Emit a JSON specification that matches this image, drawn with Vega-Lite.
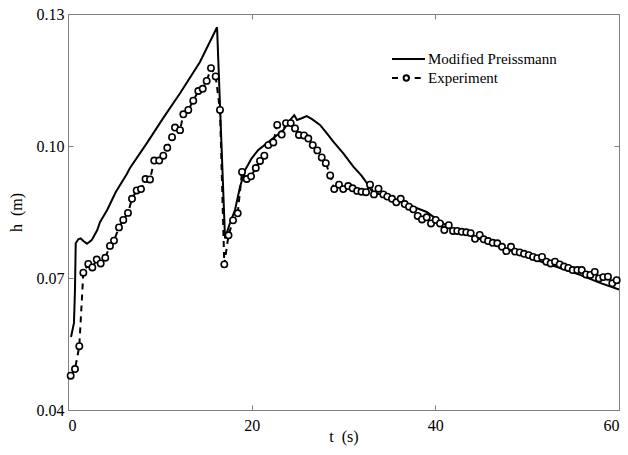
{
  "$schema": "https://vega.github.io/schema/vega-lite/v6.json",
  "width": 551,
  "height": 396,
  "autosize": "none",
  "padding": {"left": 68, "top": 14, "right": 9, "bottom": 45},
  "background": "white",
  "config": {
    "font": "Liberation Serif, Times New Roman, serif",
    "view": {"stroke": "#808080", "strokeWidth": 1},
    "axis": {
      "grid": false,
      "domainColor": "#808080",
      "tickColor": "#808080",
      "tickSize": -5,
      "labelFont": "Liberation Serif, Times New Roman, serif",
      "labelFontSize": 16,
      "labelColor": "black",
      "titleFont": "Liberation Serif, Times New Roman, serif",
      "titleFontSize": 16,
      "titleFontWeight": "normal",
      "titleColor": "black"
    },
    "legend": {
      "labelFont": "Liberation Serif, Times New Roman, serif",
      "labelFontSize": 15,
      "labelColor": "black"
    }
  },
  "datasets": {
    "model": [
      {"series": "Modified Preissmann", "t": 0.33, "h": 0.0566},
      {"series": "Modified Preissmann", "t": 0.65, "h": 0.0598},
      {"series": "Modified Preissmann", "t": 0.76, "h": 0.0673},
      {"series": "Modified Preissmann", "t": 0.84, "h": 0.0779},
      {"series": "Modified Preissmann", "t": 1.12, "h": 0.0788},
      {"series": "Modified Preissmann", "t": 1.38, "h": 0.0790},
      {"series": "Modified Preissmann", "t": 1.74, "h": 0.0783},
      {"series": "Modified Preissmann", "t": 2.07, "h": 0.0778},
      {"series": "Modified Preissmann", "t": 2.58, "h": 0.0786},
      {"series": "Modified Preissmann", "t": 3.19, "h": 0.0809},
      {"series": "Modified Preissmann", "t": 3.48, "h": 0.0827},
      {"series": "Modified Preissmann", "t": 4.28, "h": 0.0855},
      {"series": "Modified Preissmann", "t": 5.19, "h": 0.0895},
      {"series": "Modified Preissmann", "t": 6.39, "h": 0.0936},
      {"series": "Modified Preissmann", "t": 6.75, "h": 0.0950},
      {"series": "Modified Preissmann", "t": 8.57, "h": 0.1006},
      {"series": "Modified Preissmann", "t": 10.38, "h": 0.1064},
      {"series": "Modified Preissmann", "t": 12.20, "h": 0.1120},
      {"series": "Modified Preissmann", "t": 14.37, "h": 0.1191},
      {"series": "Modified Preissmann", "t": 16.23, "h": 0.1270},
      {"series": "Modified Preissmann", "t": 17.10, "h": 0.0790},
      {"series": "Modified Preissmann", "t": 17.64, "h": 0.0825},
      {"series": "Modified Preissmann", "t": 18.19, "h": 0.0855},
      {"series": "Modified Preissmann", "t": 18.73, "h": 0.0907},
      {"series": "Modified Preissmann", "t": 19.27, "h": 0.0945},
      {"series": "Modified Preissmann", "t": 20.00, "h": 0.0972},
      {"series": "Modified Preissmann", "t": 20.72, "h": 0.0991},
      {"series": "Modified Preissmann", "t": 21.64, "h": 0.1006},
      {"series": "Modified Preissmann", "t": 22.54, "h": 0.1021},
      {"series": "Modified Preissmann", "t": 23.45, "h": 0.1036},
      {"series": "Modified Preissmann", "t": 24.18, "h": 0.1059},
      {"series": "Modified Preissmann", "t": 24.64, "h": 0.1070},
      {"series": "Modified Preissmann", "t": 24.94, "h": 0.1059},
      {"series": "Modified Preissmann", "t": 25.45, "h": 0.1063},
      {"series": "Modified Preissmann", "t": 25.99, "h": 0.1068},
      {"series": "Modified Preissmann", "t": 26.57, "h": 0.1061},
      {"series": "Modified Preissmann", "t": 27.44, "h": 0.1048},
      {"series": "Modified Preissmann", "t": 28.17, "h": 0.1029},
      {"series": "Modified Preissmann", "t": 28.89, "h": 0.1010},
      {"series": "Modified Preissmann", "t": 29.98, "h": 0.0983},
      {"series": "Modified Preissmann", "t": 31.07, "h": 0.0953},
      {"series": "Modified Preissmann", "t": 31.98, "h": 0.0932},
      {"series": "Modified Preissmann", "t": 32.70, "h": 0.0911},
      {"series": "Modified Preissmann", "t": 33.21, "h": 0.0893},
      {"series": "Modified Preissmann", "t": 34.34, "h": 0.0889},
      {"series": "Modified Preissmann", "t": 36.15, "h": 0.0873},
      {"series": "Modified Preissmann", "t": 37.60, "h": 0.0862},
      {"series": "Modified Preissmann", "t": 39.06, "h": 0.0850},
      {"series": "Modified Preissmann", "t": 40.51, "h": 0.0828},
      {"series": "Modified Preissmann", "t": 41.96, "h": 0.0810},
      {"series": "Modified Preissmann", "t": 44.14, "h": 0.0794},
      {"series": "Modified Preissmann", "t": 47.04, "h": 0.0771},
      {"series": "Modified Preissmann", "t": 49.95, "h": 0.0748},
      {"series": "Modified Preissmann", "t": 52.85, "h": 0.0728},
      {"series": "Modified Preissmann", "t": 55.75, "h": 0.0707},
      {"series": "Modified Preissmann", "t": 57.93, "h": 0.0689},
      {"series": "Modified Preissmann", "t": 60.00, "h": 0.0674}
    ],
    "exp": [
      {"series": "Experiment", "t": 0.29, "h": 0.0478},
      {"series": "Experiment", "t": 0.76, "h": 0.0493},
      {"series": "Experiment", "t": 1.23, "h": 0.0545},
      {"series": "Experiment", "t": 1.67, "h": 0.0712},
      {"series": "Experiment", "t": 2.21, "h": 0.0732},
      {"series": "Experiment", "t": 2.65, "h": 0.0724},
      {"series": "Experiment", "t": 3.13, "h": 0.0742},
      {"series": "Experiment", "t": 3.56, "h": 0.0733},
      {"series": "Experiment", "t": 4.06, "h": 0.0746},
      {"series": "Experiment", "t": 4.57, "h": 0.0773},
      {"series": "Experiment", "t": 5.01, "h": 0.0785},
      {"series": "Experiment", "t": 5.55, "h": 0.0815},
      {"series": "Experiment", "t": 6.02, "h": 0.0832},
      {"series": "Experiment", "t": 6.53, "h": 0.0848},
      {"series": "Experiment", "t": 6.97, "h": 0.0880},
      {"series": "Experiment", "t": 7.48, "h": 0.0899},
      {"series": "Experiment", "t": 7.95, "h": 0.0902},
      {"series": "Experiment", "t": 8.44, "h": 0.0925},
      {"series": "Experiment", "t": 8.93, "h": 0.0924},
      {"series": "Experiment", "t": 9.39, "h": 0.0967},
      {"series": "Experiment", "t": 9.93, "h": 0.0967},
      {"series": "Experiment", "t": 10.38, "h": 0.0978},
      {"series": "Experiment", "t": 10.81, "h": 0.0996},
      {"series": "Experiment", "t": 11.33, "h": 0.1020},
      {"series": "Experiment", "t": 11.65, "h": 0.1042},
      {"series": "Experiment", "t": 12.20, "h": 0.1036},
      {"series": "Experiment", "t": 12.56, "h": 0.1072},
      {"series": "Experiment", "t": 13.10, "h": 0.1082},
      {"series": "Experiment", "t": 13.64, "h": 0.1103},
      {"series": "Experiment", "t": 14.19, "h": 0.1125},
      {"series": "Experiment", "t": 14.67, "h": 0.1130},
      {"series": "Experiment", "t": 15.10, "h": 0.1148},
      {"series": "Experiment", "t": 15.57, "h": 0.1177},
      {"series": "Experiment", "t": 16.08, "h": 0.1158},
      {"series": "Experiment", "t": 16.55, "h": 0.1082},
      {"series": "Experiment", "t": 17.02, "h": 0.0731},
      {"series": "Experiment", "t": 17.48, "h": 0.0797},
      {"series": "Experiment", "t": 17.97, "h": 0.0831},
      {"series": "Experiment", "t": 18.48, "h": 0.0847},
      {"series": "Experiment", "t": 18.95, "h": 0.0941},
      {"series": "Experiment", "t": 19.46, "h": 0.0925},
      {"series": "Experiment", "t": 19.93, "h": 0.0931},
      {"series": "Experiment", "t": 20.45, "h": 0.0950},
      {"series": "Experiment", "t": 20.91, "h": 0.0966},
      {"series": "Experiment", "t": 21.38, "h": 0.0978},
      {"series": "Experiment", "t": 21.81, "h": 0.1002},
      {"series": "Experiment", "t": 22.36, "h": 0.1008},
      {"series": "Experiment", "t": 22.78, "h": 0.1048},
      {"series": "Experiment", "t": 23.27, "h": 0.1026},
      {"series": "Experiment", "t": 23.74, "h": 0.1052},
      {"series": "Experiment", "t": 24.25, "h": 0.1052},
      {"series": "Experiment", "t": 24.72, "h": 0.1040},
      {"series": "Experiment", "t": 25.15, "h": 0.1025},
      {"series": "Experiment", "t": 25.70, "h": 0.1024},
      {"series": "Experiment", "t": 26.17, "h": 0.1017},
      {"series": "Experiment", "t": 26.65, "h": 0.1002},
      {"series": "Experiment", "t": 27.15, "h": 0.0990},
      {"series": "Experiment", "t": 27.63, "h": 0.0974},
      {"series": "Experiment", "t": 28.07, "h": 0.0961},
      {"series": "Experiment", "t": 28.55, "h": 0.0933},
      {"series": "Experiment", "t": 28.99, "h": 0.0902},
      {"series": "Experiment", "t": 29.51, "h": 0.0912},
      {"series": "Experiment", "t": 29.97, "h": 0.0902},
      {"series": "Experiment", "t": 30.51, "h": 0.0909},
      {"series": "Experiment", "t": 30.99, "h": 0.0904},
      {"series": "Experiment", "t": 31.49, "h": 0.0898},
      {"series": "Experiment", "t": 31.96, "h": 0.0896},
      {"series": "Experiment", "t": 32.45, "h": 0.0895},
      {"series": "Experiment", "t": 32.89, "h": 0.0912},
      {"series": "Experiment", "t": 33.32, "h": 0.0890},
      {"series": "Experiment", "t": 33.81, "h": 0.0903},
      {"series": "Experiment", "t": 34.34, "h": 0.0890},
      {"series": "Experiment", "t": 34.77, "h": 0.0885},
      {"series": "Experiment", "t": 35.28, "h": 0.0880},
      {"series": "Experiment", "t": 35.75, "h": 0.0872},
      {"series": "Experiment", "t": 36.23, "h": 0.0880},
      {"series": "Experiment", "t": 36.67, "h": 0.0868},
      {"series": "Experiment", "t": 37.13, "h": 0.0862},
      {"series": "Experiment", "t": 37.60, "h": 0.0856},
      {"series": "Experiment", "t": 38.08, "h": 0.0841},
      {"series": "Experiment", "t": 38.55, "h": 0.0833},
      {"series": "Experiment", "t": 39.06, "h": 0.0838},
      {"series": "Experiment", "t": 39.53, "h": 0.0824},
      {"series": "Experiment", "t": 40.04, "h": 0.0832},
      {"series": "Experiment", "t": 40.51, "h": 0.0824},
      {"series": "Experiment", "t": 40.98, "h": 0.0809},
      {"series": "Experiment", "t": 41.46, "h": 0.0820},
      {"series": "Experiment", "t": 41.93, "h": 0.0807},
      {"series": "Experiment", "t": 42.39, "h": 0.0807},
      {"series": "Experiment", "t": 42.87, "h": 0.0805},
      {"series": "Experiment", "t": 43.37, "h": 0.0804},
      {"series": "Experiment", "t": 43.85, "h": 0.0802},
      {"series": "Experiment", "t": 44.32, "h": 0.0789},
      {"series": "Experiment", "t": 44.83, "h": 0.0798},
      {"series": "Experiment", "t": 45.27, "h": 0.0788},
      {"series": "Experiment", "t": 45.74, "h": 0.0784},
      {"series": "Experiment", "t": 46.25, "h": 0.0780},
      {"series": "Experiment", "t": 46.75, "h": 0.0779},
      {"series": "Experiment", "t": 47.26, "h": 0.0771},
      {"series": "Experiment", "t": 47.73, "h": 0.0761},
      {"series": "Experiment", "t": 48.24, "h": 0.0771},
      {"series": "Experiment", "t": 48.68, "h": 0.0760},
      {"series": "Experiment", "t": 49.19, "h": 0.0758},
      {"series": "Experiment", "t": 49.66, "h": 0.0755},
      {"series": "Experiment", "t": 50.17, "h": 0.0752},
      {"series": "Experiment", "t": 50.64, "h": 0.0748},
      {"series": "Experiment", "t": 51.10, "h": 0.0745},
      {"series": "Experiment", "t": 51.62, "h": 0.0748},
      {"series": "Experiment", "t": 52.09, "h": 0.0737},
      {"series": "Experiment", "t": 52.56, "h": 0.0733},
      {"series": "Experiment", "t": 53.03, "h": 0.0737},
      {"series": "Experiment", "t": 53.54, "h": 0.0731},
      {"series": "Experiment", "t": 54.01, "h": 0.0726},
      {"series": "Experiment", "t": 54.48, "h": 0.0723},
      {"series": "Experiment", "t": 54.96, "h": 0.0718},
      {"series": "Experiment", "t": 55.46, "h": 0.0718},
      {"series": "Experiment", "t": 55.94, "h": 0.0718},
      {"series": "Experiment", "t": 56.41, "h": 0.0708},
      {"series": "Experiment", "t": 56.88, "h": 0.0707},
      {"series": "Experiment", "t": 57.36, "h": 0.0714},
      {"series": "Experiment", "t": 57.82, "h": 0.0699},
      {"series": "Experiment", "t": 58.29, "h": 0.0702},
      {"series": "Experiment", "t": 58.80, "h": 0.0703},
      {"series": "Experiment", "t": 59.27, "h": 0.0688},
      {"series": "Experiment", "t": 59.75, "h": 0.0695}
    ]
  },
  "resolve": {"axis": {"x": "independent", "y": "independent"}},
  "layer": [
    {
      "data": {"name": "model"},
      "mark": {"type": "line", "strokeWidth": 2, "interpolate": "linear"},
      "encoding": {
        "x": {"field": "t", "type": "quantitative", "scale": {"domain": [0, 60], "nice": false, "zero": false},
              "axis": {"orient": "bottom", "values": [0, 20, 40, 60], "title": "t\u00a0\u00a0(s)", "labelPadding": 12, "titlePadding": -5}},
        "y": {"field": "h", "type": "quantitative", "scale": {"domain": [0.04, 0.13], "nice": false, "zero": false},
              "axis": {"orient": "left", "values": [0.04, 0.07, 0.1, 0.13], "format": ".2f", "title": "h\u00a0\u00a0(m)", "labelPadding": 9, "titlePadding": 12}},
        "color": {"field": "series", "type": "nominal",
                  "scale": {"domain": ["Modified Preissmann", "Experiment"], "range": ["black", "black"]},
                  "legend": {"orient": "none", "legendX": 323, "legendY": 34, "title": null, "padding": 0,
                             "symbolSize": 400, "symbolStrokeWidth": 2, "labelOffset": 15, "rowPadding": 0,
                             "labelFont": "Liberation Serif, Times New Roman, serif", "labelFontSize": 15,
                             "encode": {"symbols": {"update": {
                               "shape": {"signal": "datum.value === 'Experiment' ? 'M-1,0H-0.4M0.16,0A0.27,0.27 0 1,0 0.7,0A0.27,0.27 0 1,0 0.16,0M1.27,0H1.87' : 'M-1,0H2.3'"},
                               "stroke": {"value": "black"},
                               "fill": {"value": "transparent"},
                               "strokeDash": {"value": []},
                               "strokeWidth": {"value": 2}
                             }}}}}
      }
    },
    {
      "data": {"name": "exp"},
      "mark": {"type": "line", "strokeWidth": 2, "strokeDash": [6, 5]},
      "encoding": {
        "x": {"field": "t", "type": "quantitative", "axis": null},
        "y": {"field": "h", "type": "quantitative", "axis": null},
        "color": {"field": "series", "type": "nominal"}
      }
    },
    {
      "data": {"name": "exp"},
      "mark": {"type": "point", "shape": "circle", "filled": true, "fill": "white", "stroke": "black", "strokeWidth": 1.6, "size": 40, "opacity": 1},
      "encoding": {
        "x": {"field": "t", "type": "quantitative",
              "axis": {"orient": "top", "values": [0, 20, 40, 60], "labels": false, "title": null}},
        "y": {"field": "h", "type": "quantitative",
              "axis": {"orient": "right", "values": [0.04, 0.07, 0.1, 0.13], "labels": false, "title": null}}
      }
    }
  ]
}
